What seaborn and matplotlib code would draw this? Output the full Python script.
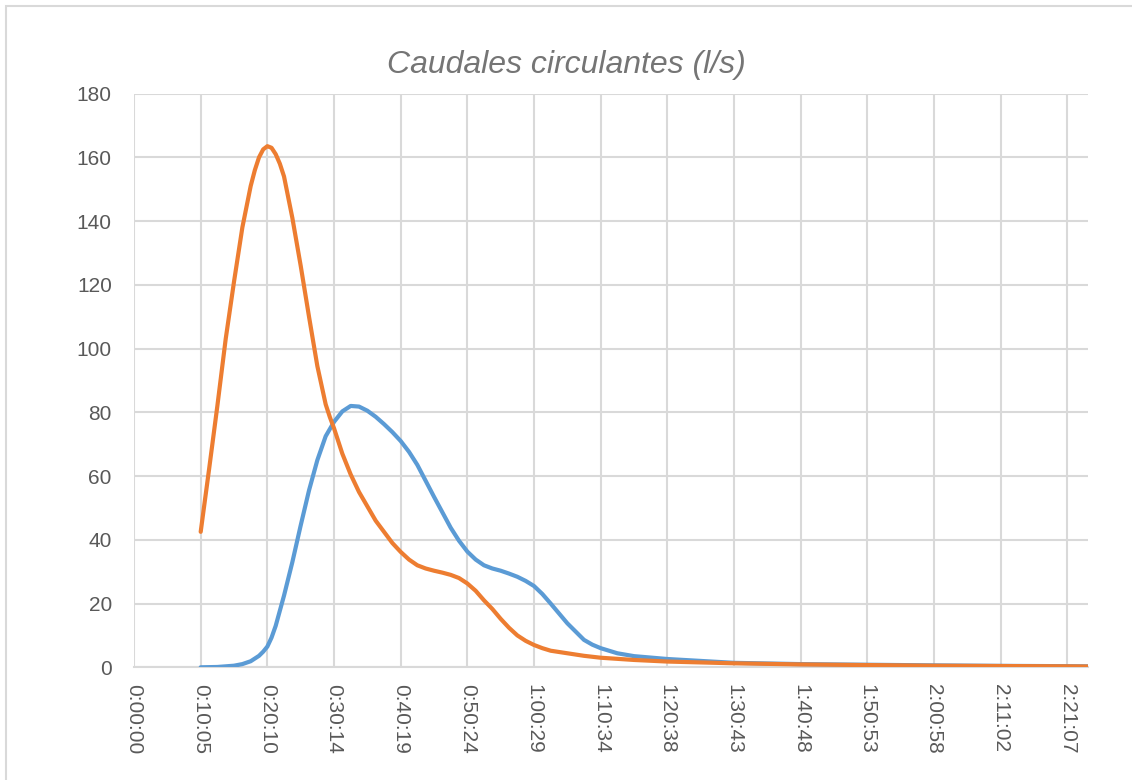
import numpy as np
import pandas as pd
import matplotlib
matplotlib.use("Agg")
import matplotlib.pyplot as plt
from matplotlib.patches import Rectangle
import seaborn as sns

# time axis: one label step = 604.8 s (0:10:05)
paso_s = 604.8
etiquetas = ["0:00:00", "0:10:05", "0:20:10", "0:30:14", "0:40:19", "0:50:24",
             "1:00:29", "1:10:34", "1:20:38", "1:30:43", "1:40:48", "1:50:53",
             "2:00:58", "2:11:02", "2:21:07"]

# sample positions (in label steps) and flows (l/s)
pasos_azul = [1, 1.25, 1.5, 1.625, 1.75, 1.875, 1.9375, 2, 2.0625, 2.125, 2.25,
              2.375, 2.5, 2.625, 2.75, 2.875, 3, 3.125, 3.25, 3.375, 3.5,
              3.625, 3.75, 3.875, 4, 4.125, 4.25, 4.5, 4.75, 4.875, 5, 5.125,
              5.25, 5.375, 5.5, 5.625, 5.75, 5.875, 6, 6.125, 6.25, 6.5, 6.75,
              6.875, 7, 7.25, 7.5, 8, 9, 10, 11, 12, 13, 14, 14.31]
azul = [0, 0.1, 0.5, 1.0, 1.9, 3.6, 4.9, 6.5, 9.3, 13, 22.5,
        33, 44.5, 55.5, 65, 72.5, 77, 80.3, 82, 81.8, 80.5,
        78.6, 76.3, 73.8, 71, 67.6, 63.5, 53.5, 43.8, 39.7, 36.3, 33.8,
        32, 31, 30.3, 29.4, 28.4, 27.1, 25.5, 23, 20, 13.8, 8.6,
        7.1, 6, 4.4, 3.5, 2.6, 1.4, 1.0, 0.8, 0.6, 0.45, 0.35, 0.3]

pasos_naranja = [1, 1.125, 1.25, 1.375, 1.5, 1.625, 1.75, 1.8125, 1.875,
                 1.9375, 2, 2.0625, 2.125, 2.1875, 2.25, 2.375, 2.5, 2.625,
                 2.75, 2.875, 2.9375, 3, 3.125, 3.25, 3.375, 3.5, 3.625, 3.75,
                 3.875, 4, 4.125, 4.25, 4.375, 4.5, 4.625, 4.75, 4.875, 5,
                 5.125, 5.25, 5.375, 5.5, 5.625, 5.75, 5.875, 6, 6.125, 6.25,
                 6.5, 6.75, 7, 7.5, 8, 9, 10, 11, 12, 13, 14, 14.31]
naranja = [42.5, 62, 82, 103, 121, 138, 151, 156, 160,
           162.5, 163.5, 163, 161, 158, 154, 141, 126, 110,
           94.5, 82.5, 78.5, 75, 67, 60.5, 55, 50.5, 46, 42.5,
           39, 36.2, 33.8, 32, 31, 30.3, 29.7, 29, 28, 26.3,
           24, 21, 18.3, 15.2, 12.4, 10, 8.3, 7, 6, 5.2,
           4.4, 3.6, 3.0, 2.3, 1.8, 1.25, 0.9, 0.7, 0.5, 0.4, 0.3, 0.25]

df = pd.concat([
    pd.DataFrame({"t": np.array(pasos_azul) * paso_s, "q": azul, "serie": "Serie1"}),
    pd.DataFrame({"t": np.array(pasos_naranja) * paso_s, "q": naranja, "serie": "Serie2"}),
])

sns.set_style("white")
plt.rcParams["font.family"] = ["Liberation Sans", "DejaVu Sans"]

fig = plt.figure(figsize=(11.32, 7.8), dpi=100)
ax = fig.add_axes([0.1184, 0.1445, 0.9611 - 0.1184, 0.88 - 0.1445])

grid_c = "#D9D9D9"
txt_c = "#595959"

sns.lineplot(data=df, x="t", y="q", hue="serie", sort=False,
             palette={"Serie1": "#5B9BD5", "Serie2": "#ED7D31"},
             linewidth=3.0, legend=False, ax=ax, zorder=3,
             solid_capstyle="round", solid_joinstyle="round")

ax.set_xlim(0, 14.31 * paso_s)
ax.set_ylim(0, 180)
ax.set_yticks(range(0, 181, 20))
ax.set_xticks(np.arange(len(etiquetas)) * paso_s)
ax.set_xticklabels(etiquetas, rotation=-90)
ax.set_xlabel("")
ax.set_ylabel("")

ax.grid(True, color=grid_c, linewidth=1.5)
ax.set_axisbelow(True)
for s in ["top", "right", "left"]:
    ax.spines[s].set_visible(False)
ax.spines["bottom"].set_color(grid_c)
ax.spines["bottom"].set_linewidth(1.5)
ax.tick_params(axis="both", length=0, labelsize=15, labelcolor=txt_c)
ax.tick_params(axis="y", pad=16)
ax.tick_params(axis="x", pad=12)
for lbl in ax.get_xticklabels():
    lbl.set_verticalalignment("top")

# title centred on the whole chart, not on the plot area
fig.text(0.5, 1 - 65 / 780, "Caudales circulantes (l/s)", fontsize=23,
         style="italic", color="#757575", ha="center", va="center")

# chart area border (runs off the right and bottom edges)
fig.patches.append(Rectangle((6 / 1132, -0.05), 1.1, 1.05 - 6 / 780,
                             transform=fig.transFigure, fill=False,
                             edgecolor=grid_c, linewidth=1.5))

fig.savefig("out.png", dpi=100)
